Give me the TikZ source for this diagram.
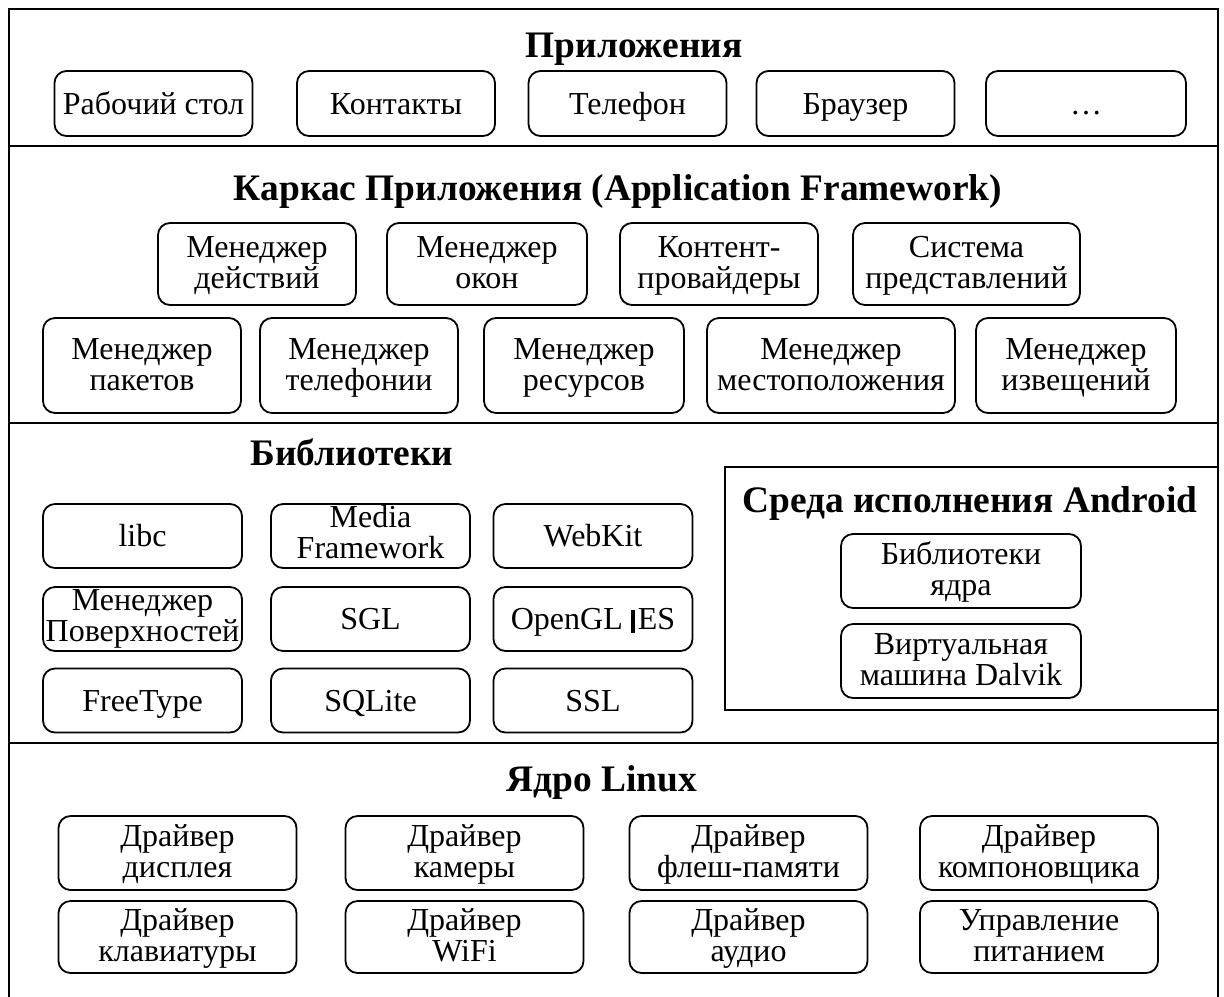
\documentclass[tikz,border=0pt]{standalone}
\usepackage{fontspec}
\setmainfont{Liberation Serif}
\usetikzlibrary{positioning}
\newcommand\dstrut{\rule[-4pt]{0pt}{18pt}}
\newcommand\lstrut{\rule[-4pt]{0pt}{15.5pt}}

\begin{document}
\begin{tikzpicture}[x=0.5pt,y=-0.5pt,
	blok/.style={draw,rounded corners=6pt,line width=0.9pt,align=center,
	inner sep=0pt,font=\fontsize{16}{15.5}\selectfont},
	odin/.style={blok,text height=13pt,text depth=2.5pt},
	dva/.style={blok,execute at end node=\strut},
	zag/.style={anchor=base,inner sep=0pt,font=\bfseries\fontsize{18.7}{22}\selectfont},
	ramka/.style={line width=1.2pt}]
\useasboundingbox (0,0) rectangle (1224,996);
\draw [ramka] (9,1000) -- (9,9) -- (1218,9) -- (1218,1000);
\draw [ramka] (9,146) -- (1218,146);
\draw [ramka] (9,423) -- (1218,423);
\draw [ramka] (9,743) -- (1218,743);
\draw [line width=1pt] (725,467) rectangle (1218,710);

\node [zag] (prl) at (634,57) {Приложения};
\node [odin, minimum width=99pt, minimum height=32.5pt] (stol) at (153.5,103.5) {Рабочий стол};
\node [odin, minimum width=99pt, minimum height=32.5pt] (kont) at (396,103.5) {Контакты};
\node [odin, minimum width=99pt, minimum height=32.5pt] (tel) at (627.5,103.5) {Телефон};
\node [odin, minimum width=99pt, minimum height=32.5pt] (br) at (855.5,103.5) {Браузер};
\node [odin, minimum width=100pt, minimum height=32.5pt] (etc) at (1086,103.5) {…};

\node [zag] (kark) at (618,200) {Каркас Приложения (Application Framework)};
\node [dva, minimum width=99pt, minimum height=41pt] (dejs) at (257,264) {\dstrut Менеджер\\действий};
\node [dva, minimum width=100pt, minimum height=41pt] (okon) at (487,264) {\dstrut Менеджер\\окон};
\node [dva, minimum width=99pt, minimum height=41pt] (prov) at (719,264) {\dstrut Контент-\\провайдеры};
\node [dva, minimum width=113.5pt, minimum height=41pt] (pred) at (966.5,264) {\dstrut Система\\представлений};
\node [dva, minimum width=99pt, minimum height=47.5pt] (pak) at (142,365.5) {\dstrut Менеджер\\пакетов};
\node [dva, minimum width=99pt, minimum height=47.5pt] (tlf) at (359,365.5) {\dstrut Менеджер\\телефонии};
\node [dva, minimum width=100pt, minimum height=47.5pt] (res) at (584,365.5) {\dstrut Менеджер\\ресурсов};
\node [dva, minimum width=124pt, minimum height=47.5pt] (mest) at (831,365.5) {\dstrut Менеджер\\местоположения};
\node [dva, minimum width=100pt, minimum height=47.5pt] (izv) at (1076,365.5) {\dstrut Менеджер\\извещений};

\node [zag] (bibl) at (352,465) {Библиотеки};
\node [odin, minimum width=99.5pt, minimum height=32pt] (libc) at (142.5,536) {libc};
\node [dva, minimum width=99.5pt, minimum height=32pt] (media) at (370.5,536) {\lstrut Media\\Framework};
\node [odin, minimum width=99.5pt, minimum height=32pt] (web) at (593,536) {WebKit};
\node [dva, minimum width=99.5pt, minimum height=32pt] (pov) at (142.5,619) {\lstrut Менеджер\\Поверхностей};
\node [odin, minimum width=99.5pt, minimum height=32pt] (sgl) at (370.5,619) {SGL};
\node [odin, minimum width=99.5pt, minimum height=32pt] (ogl) at (593,619) {OpenGL\hspace{4pt}\rule[-1.5pt]{2pt}{11.5pt}\hspace{1.5pt}ES};
\node [odin, minimum width=99.5pt, minimum height=32pt] (ft) at (142.5,700.5) {FreeType};
\node [odin, minimum width=99.5pt, minimum height=32pt] (sqlt) at (370.5,700.5) {SQLite};
\node [odin, minimum width=99.5pt, minimum height=32pt] (ssl) at (593,700.5) {SSL};

\node [zag] (sreda) at (970,512) {Среда исполнения Android};
\node [dva, minimum width=120pt, minimum height=37pt] (jadro) at (961,571) {\dstrut Библиотеки\\ядра};
\node [dva, minimum width=120pt, minimum height=37pt] (dalv) at (961,661) {\dstrut Виртуальная\\машина Dalvik};

\node [zag] (linux) at (602,791) {Ядро Linux};
\node [dva, minimum width=119pt, minimum height=37pt] (disp) at (177.5,853) {\dstrut Драйвер\\дисплея};
\node [dva, minimum width=119pt, minimum height=37pt] (kam) at (464.5,853) {\dstrut Драйвер\\камеры};
\node [dva, minimum width=119pt, minimum height=37pt] (fl) at (748.5,853) {\dstrut Драйвер\\флеш-памяти};
\node [dva, minimum width=119pt, minimum height=37pt] (komp) at (1039,853) {\dstrut Драйвер\\компоновщика};
\node [dva, minimum width=119pt, minimum height=36pt] (klav) at (177.5,937) {\dstrut Драйвер\\клавиатуры};
\node [dva, minimum width=119pt, minimum height=36pt] (wifi) at (464.5,937) {\dstrut Драйвер\\WiFi};
\node [dva, minimum width=119pt, minimum height=36pt] (aud) at (748.5,937) {\dstrut Драйвер\\аудио};
\node [dva, minimum width=119pt, minimum height=36pt] (pit) at (1039,937) {\dstrut Управление\\питанием};
\end{tikzpicture}
\end{document}
